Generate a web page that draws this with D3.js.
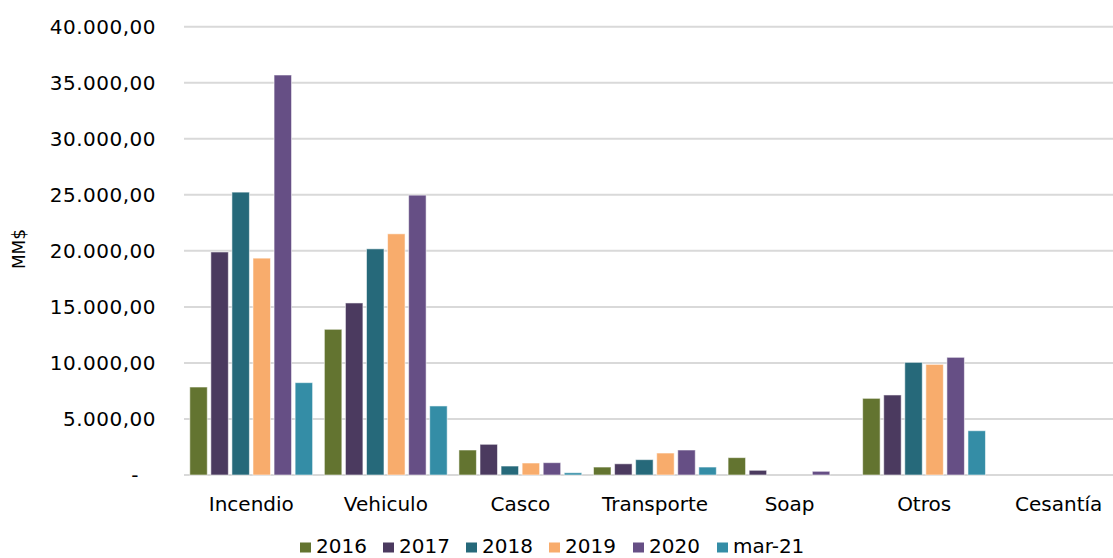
<!DOCTYPE html>
<html><head><meta charset="utf-8">
<script src="https://cdn.jsdelivr.net/npm/d3@7"></script>
<style>body{margin:0;background:#fff}svg{display:block}text{font-family:"DejaVu Sans",Verdana,sans-serif;fill:#000}</style>
</head><body><svg id="c" width="1113" height="558"></svg>
<script>
const categories = ["Incendio","Vehiculo","Casco","Transporte","Soap","Otros","Cesantía"];
const seriesNames = ["2016","2017","2018","2019","2020","mar-21"];
const colors = ["#637430","#4b3a5f","#26697a","#f8ac6c","#664f85","#348da6"];
const v2016 = [7850,13000,2230,710,1550,6840,0];
const v2017 = [19900,15350,2740,1000,420,7140,0];
const v2018 = [25240,20180,800,1370,0,10050,0];
const v2019 = [19350,21520,1070,1960,0,9870,0];
const v2020 = [35690,24970,1100,2230,330,10500,0];
const vMar21 = [8240,6160,200,710,0,3950,0];
const seriesValues = [v2016,v2017,v2018,v2019,v2020,vMar21];
const yTicks = [0,5000,10000,15000,20000,25000,30000,35000,40000];

const svg = d3.select("#c");
const x0 = d3.scaleBand().domain(categories).range([184,1126]).padding(0);
const x1 = d3.scaleBand().domain(seriesNames).range([4,130.4]).paddingInner(0.17).paddingOuter(0.085);
const y = d3.scaleLinear().domain([0,40000]).range([475,26.7]);

// gridlines
svg.append("g").selectAll("line").data(yTicks).join("line")
  .attr("x1",184).attr("x2",1113)
  .attr("y1",d=>y(d)).attr("y2",d=>y(d))
  .attr("stroke","#d9d9d9").attr("stroke-width",2);

// y axis labels
const fmt = d3.formatLocale({decimal:",",thousands:".",grouping:[3],currency:["","$"]}).format(",.2f");
const yAxis = svg.append("g").attr("transform","translate(184,0)")
  .call(d3.axisLeft(y).tickValues(yTicks).tickSize(0).tickPadding(28).tickFormat(d=>d===0?"-":fmt(d)));
yAxis.select(".domain").remove();
yAxis.selectAll("text").style("font-size","20px").style("letter-spacing","0.5px")
  .style("font-family","'DejaVu Sans',Verdana,sans-serif").attr("fill","#000");
yAxis.selectAll(".tick").filter(d=>d===0).select("text").attr("dx",-17);

// bars
const groups = svg.append("g").selectAll("g").data(categories).join("g")
  .attr("transform",c=>`translate(${x0(c)},0)`);
groups.selectAll("rect").data((c,ci)=>seriesNames.map((s,si)=>({s,si,v:seriesValues[si][ci]})))
  .join("rect")
  .attr("x",d=>x1(d.s)).attr("width",x1.bandwidth())
  .attr("y",d=>y(d.v)).attr("height",d=>y(0)-y(d.v))
  .attr("fill",d=>colors[d.si])
  .attr("stroke","#ffffff").attr("stroke-opacity",0.55).attr("stroke-width",1);

// category labels
svg.append("g").selectAll("text").data(categories).join("text")
  .attr("x",c=>x0(c)+x0.bandwidth()/2).attr("y",511)
  .attr("text-anchor","middle").style("font-size","20px").text(c=>c);

// y title
svg.append("text").attr("transform","translate(25,249) rotate(-90)")
  .attr("text-anchor","middle").style("font-size","17px").text("MM$");

// legend
const legX = [300,383,466,549,633,717];
const leg = svg.append("g").selectAll("g").data(seriesNames).join("g")
  .attr("transform",(d,i)=>`translate(${legX[i]},552.5)`);
leg.append("rect").attr("x",0).attr("y",-10).attr("width",11).attr("height",10).attr("fill",(d,i)=>colors[i]);
leg.append("text").attr("x",16).attr("y",0).style("font-size","20px").text(d=>d);
</script></body></html>
